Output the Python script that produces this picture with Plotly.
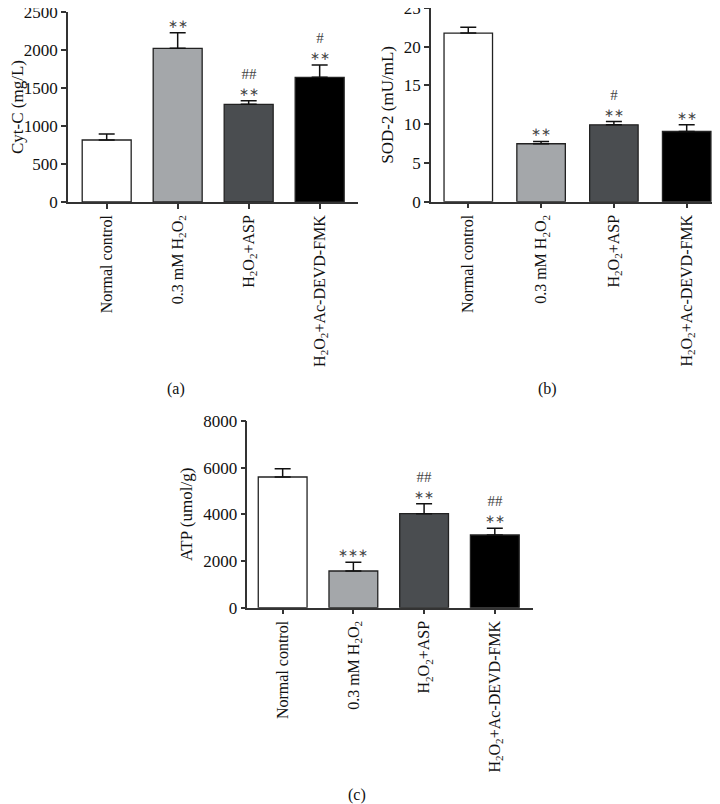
import plotly.graph_objects as go

categories = ["Normal control",
              "0.3 mM H<sub>2</sub>O<sub>2</sub>",
              "H<sub>2</sub>O<sub>2</sub>+ASP",
              "H<sub>2</sub>O<sub>2</sub>+Ac-DEVD-FMK"]

cytc_mean = [816, 2022, 1285, 1641]
cytc_err = [79, 206, 48, 162]
cytc_sig = ["", "**", "##|**", "#|**"]

sod2_mean = [21.76, 7.48, 9.92, 9.06]
sod2_err = [0.74, 0.30, 0.43, 0.86]
sod2_sig = ["", "**", "#|**", "**"]

atp_mean = [5601, 1573, 4029, 3116]
atp_err = [356, 371, 428, 287]
atp_sig = ["", "***", "##|**", "##|**"]

bar_colors = ["#ffffff", "#a4a7aa", "#4a4d50", "#000000"]

FONT = "Liberation Serif"
OFF = 8.0          # page body margin
W = 720.0 - OFF
H = 804.0 - OFF


def fx(px):
    return min(1.0, max(0.0, (px - OFF) / W))


def fy(py):
    return min(1.0, max(0.0, 1 - (py - OFF) / H))


def sig_text(s):
    out = []
    for part in s.split("|"):
        if part.startswith("#"):
            out.append("<span style='font-size:15px'>" + part + "</span>")
        else:
            out.append("<span style='font-size:12px'>" + "∗" * len(part) + "</span>")
    return "<br>".join(out)


fig = go.Figure()

panels = [
    dict(mean=cytc_mean, err=cytc_err, sig=cytc_sig, title="Cyt-C (mg/L)",
         xd=[fx(68), fx(358)], yd=[fy(202), fy(12)], xr=[-0.545, 3.54],
         yr=[0, 2500], dt=500, bw=0.69),
    dict(mean=sod2_mean, err=sod2_err, sig=sod2_sig, title="SOD-2 (mU/mL)",
         xd=[fx(431), fx(718)], yd=[fy(201.7), fy(8)], xr=[-0.512, 3.43],
         yr=[0, 25], dt=5, bw=0.666),
    dict(mean=atp_mean, err=atp_err, sig=atp_sig, title="ATP (umol/g)",
         xd=[fx(247.3), fx(533)], yd=[fy(607.7), fy(421)], xr=[-0.5, 3.54],
         yr=[0, 8000], dt=2000, bw=0.69),
]

annotations = []
for i, p in enumerate(panels):
    n = "" if i == 0 else str(i + 1)
    fig.add_trace(go.Bar(
        x=categories, y=p["mean"], width=[p["bw"]] * 4,
        marker=dict(color=bar_colors, line=dict(color="#222222", width=1.3)),
        error_y=dict(type="data", array=p["err"], symmetric=False,
                     arrayminus=[0] * 4, color="#111111", thickness=1.5, width=8),
        xaxis="x" + n, yaxis="y" + n, showlegend=False,
    ))
    fig.layout["xaxis" + n] = dict(
        domain=p["xd"], anchor="y" + n, range=p["xr"], type="category",
        showline=True, linecolor="#333333", linewidth=1.5,
        ticks="outside", ticklen=5, tickcolor="#333333", tickwidth=1.5,
        tickangle=-90, tickfont=dict(family=FONT, size=16, color="#111111"),
        ticklabeloverflow="allow",
        showgrid=False, zeroline=False, fixedrange=True, automargin=False,
    )
    fig.layout["yaxis" + n] = dict(
        domain=p["yd"], anchor="x" + n, range=p["yr"], dtick=p["dt"],
        showline=True, linecolor="#333333", linewidth=1.5,
        ticks="outside", ticklen=5, tickcolor="#333333", tickwidth=1.5,
        tickfont=dict(family=FONT, size=17, color="#111111"),
        ticklabeloverflow="allow",
        title=dict(text=p["title"], font=dict(family=FONT, size=17, color="#111111"),
                   standoff=6),
        showgrid=False, zeroline=False, fixedrange=True, automargin=False,
    )
    for c, m, e, s in zip(categories, p["mean"], p["err"], p["sig"]):
        if s:
            annotations.append(dict(
                x=c, y=m + e, xref="x" + n, yref="y" + n, text=sig_text(s),
                showarrow=False, yanchor="bottom", yshift=0,
                font=dict(family=FONT, size=13, color="#444444"),
            ))

for txt, px, py in [("(a)", 176, 389), ("(b)", 547, 389), ("(c)", 357, 795)]:
    annotations.append(dict(
        x=fx(px), y=fy(py), xref="paper", yref="paper", text=txt,
        showarrow=False, xanchor="center", yanchor="middle",
        font=dict(family=FONT, size=16, color="#111111"),
    ))

fig.update_layout(
    width=int(W), height=int(H), margin=dict(l=0, r=0, t=0, b=0),
    paper_bgcolor="white", plot_bgcolor="white",
    annotations=annotations,
)

fig.write_html("out.html")
